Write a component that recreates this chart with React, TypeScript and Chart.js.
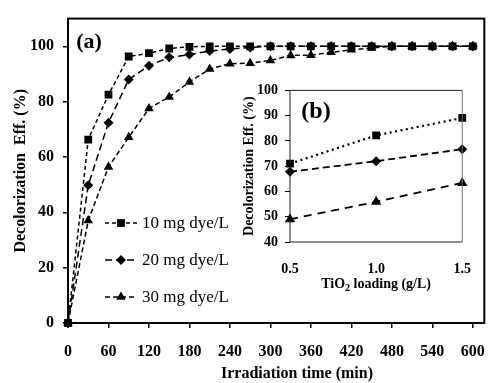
import React, { useEffect, useRef } from "react";
import { Chart, registerables } from "chart.js";
Chart.register(...registerables);

// ---------- Main chart data (a) ----------
const timeMin = [0, 30, 60, 90, 120, 150, 180, 210, 240, 270, 300, 330, 360, 390, 420, 450, 480, 510, 540, 570, 600];
const dye10 = [0, 66.3, 82.5, 96.3, 97.5, 99.2, 99.8, 100, 100, 100, 100, 100, 100, 100, 100, 100, 100, 100, 100, 100, 100];
const dye20 = [0, 49.8, 72.4, 88.0, 93.0, 96.0, 97.0, 98.3, 99.0, 99.6, 100, 100, 100, 100, 100, 100, 100, 100, 100, 100, 100];
const dye30 = [0, 37.0, 56.4, 67.1, 77.5, 81.7, 87.1, 91.8, 93.7, 93.9, 94.9, 96.7, 96.8, 97.8, 98.7, 99.4, 100, 100, 100, 100, 100];
const seriesLabels = ["10 mg dye/L", "20 mg dye/L", "30 mg dye/L"];
const xTicksMain = [0, 60, 120, 180, 240, 300, 360, 420, 480, 540, 600];
const yTicksMain = [0, 20, 40, 60, 80, 100];

// ---------- Inset data (b) ----------
const loading = [0.5, 1.0, 1.5];
const inset10 = [71.0, 82.2, 89.1];
const inset20 = [67.8, 72.0, 76.7];
const inset30 = [49.0, 55.9, 63.4];
const xTicksInset = [0.5, 1.0, 1.5];
const yTicksInset = [40, 50, 60, 70, 80, 90, 100];

const SERIF = "'Liberation Serif', 'Times New Roman', serif";

function pts(xs: number[], ys: number[]) {
  return xs.map((x, i) => ({ x, y: ys[i] }));
}

function drawMarker(ctx: CanvasRenderingContext2D, style: string, x: number, y: number, r: number) {
  ctx.beginPath();
  if (style === "rect") {
    const s = r * Math.SQRT1_2;
    ctx.rect(x - s, y - s, 2 * s, 2 * s);
  } else if (style === "rectRot") {
    ctx.moveTo(x, y - r);
    ctx.lineTo(x + r, y);
    ctx.lineTo(x, y + r);
    ctx.lineTo(x - r, y);
    ctx.closePath();
  } else {
    ctx.moveTo(x, y - r);
    ctx.lineTo(x + 0.866 * r, y + 0.5 * r);
    ctx.lineTo(x - 0.866 * r, y + 0.5 * r);
    ctx.closePath();
  }
  ctx.fill();
}

const mainPlugin = {
  id: "mainDecor",
  beforeDatasetsDraw(chart: any) {
    const ctx: CanvasRenderingContext2D = chart.ctx;
    const a = chart.chartArea;
    ctx.save();
    ctx.strokeStyle = "#000";
    ctx.lineWidth = 2;
    ctx.setLineDash([]);
    ctx.strokeRect(a.left, a.top, a.right - a.left, a.bottom - a.top);
    ctx.restore();
  },
  afterDraw(chart: any) {
    const ctx: CanvasRenderingContext2D = chart.ctx;
    ctx.save();
    ctx.fillStyle = "#000";
    ctx.font = `bold 22px ${SERIF}`;
    ctx.textAlign = "center";
    ctx.textBaseline = "middle";
    ctx.fillText("(a)", 89, 42);
    ctx.font = `bold 16px ${SERIF}`;
    ctx.fillText("Irradiation time (min)", 297, 374);
    const rows = [223, 260, 297];
    chart.data.datasets.forEach((ds: any, i: number) => {
      const y = rows[i];
      ctx.strokeStyle = "#000";
      ctx.lineWidth = 1.5;
      ctx.setLineDash(ds.borderDash || []);
      ctx.beginPath();
      ctx.moveTo(105, y);
      ctx.lineTo(137, y);
      ctx.stroke();
      ctx.setLineDash([]);
      ctx.fillStyle = "#000";
      drawMarker(ctx, ds.pointStyle, 121, y, ds.pointRadius);
      ctx.font = `17px ${SERIF}`;
      ctx.textAlign = "left";
      ctx.textBaseline = "middle";
      ctx.fillText(ds.label, 142, y + 1);
    });
    ctx.restore();
  },
};

const insetPlugin = {
  id: "insetDecor",
  afterDraw(chart: any) {
    const ctx: CanvasRenderingContext2D = chart.ctx;
    const a = chart.chartArea;
    ctx.save();
    ctx.setLineDash([]);
    ctx.lineWidth = 1;
    ctx.strokeStyle = "#222";
    ctx.beginPath();
    ctx.moveTo(a.left, a.bottom);
    ctx.lineTo(a.left, a.top);
    ctx.lineTo(a.right, a.top);
    ctx.moveTo(a.left, a.bottom);
    ctx.lineTo(a.right, a.bottom);
    ctx.stroke();
    ctx.strokeStyle = "#777";
    ctx.beginPath();
    ctx.moveTo(a.right, a.top);
    ctx.lineTo(a.right, a.bottom);
    ctx.stroke();
    ctx.fillStyle = "#000";
    ctx.font = `bold 24px ${SERIF}`;
    ctx.textAlign = "center";
    ctx.textBaseline = "middle";
    ctx.fillText("(b)", 86, 37);
    const big = `bold 14px ${SERIF}`;
    const small = `bold 10px ${SERIF}`;
    ctx.textAlign = "left";
    ctx.textBaseline = "alphabetic";
    ctx.font = big;
    const w1 = ctx.measureText("TiO").width;
    const w3 = ctx.measureText(" loading (g/L)").width;
    ctx.font = small;
    const w2 = ctx.measureText("2").width;
    const total = w1 + w2 + w3;
    let x = (a.left + a.right) / 2 - total / 2;
    const base = 213;
    ctx.font = big;
    ctx.fillText("TiO", x, base);
    x += w1;
    ctx.font = small;
    ctx.fillText("2", x, base + 3);
    x += w2;
    ctx.font = big;
    ctx.fillText(" loading (g/L)", x, base);
    ctx.restore();
  },
};

export default function App() {
  const mainRef = useRef<HTMLCanvasElement>(null);
  const insetRef = useRef<HTMLCanvasElement>(null);

  useEffect(() => {
    const tickFont = { family: SERIF, size: 16, weight: "bold" as const };
    const main = new Chart(mainRef.current!, {
      type: "line",
      data: {
        datasets: [
          {
            label: seriesLabels[0],
            data: pts(timeMin, dye10),
            borderColor: "#000",
            backgroundColor: "#000",
            borderWidth: 1.5,
            borderDash: [4, 3],
            pointStyle: "rect",
            pointRadius: 5.5,
            pointBorderWidth: 0,
            tension: 0,
            clip: 12,
          },
          {
            label: seriesLabels[1],
            data: pts(timeMin, dye20),
            borderColor: "#000",
            backgroundColor: "#000",
            borderWidth: 1.5,
            borderDash: [7, 4],
            pointStyle: "rectRot",
            pointRadius: 5,
            pointBorderWidth: 0,
            tension: 0,
            clip: 12,
          },
          {
            label: seriesLabels[2],
            data: pts(timeMin, dye30),
            borderColor: "#000",
            backgroundColor: "#000",
            borderWidth: 1.5,
            borderDash: [5, 3],
            pointStyle: "triangle",
            pointRadius: 5.5,
            pointBorderWidth: 0,
            tension: 0,
            clip: 12,
          },
        ],
      },
      options: {
        animation: false,
        responsive: false,
        devicePixelRatio: 1,
        layout: { padding: { top: 15, right: 2, left: 0, bottom: 0 } },
        plugins: { legend: { display: false }, tooltip: { enabled: false } },
        scales: {
          x: {
            type: "linear",
            min: 0,
            max: 617,
            afterBuildTicks: (s: any) => {
              s.ticks = xTicksMain.map((v) => ({ value: v }));
            },
            afterFit: (s: any) => {
              s.height = 60;
            },
            grid: { display: true, drawOnChartArea: false, drawTicks: true, tickLength: 5, color: "#000", lineWidth: 1.5 },
            border: { display: false },
            ticks: { font: tickFont, color: "#000", padding: 14, maxRotation: 0, autoSkip: false },
          },
          y: {
            type: "linear",
            min: 0,
            max: 110,
            afterBuildTicks: (s: any) => {
              s.ticks = yTicksMain.map((v) => ({ value: v }));
            },
            afterFit: (s: any) => {
              s.width = 68;
            },
            grid: { display: true, drawOnChartArea: false, drawTicks: true, tickLength: 5, color: "#000", lineWidth: 1.5 },
            border: { display: false },
            ticks: { font: tickFont, color: "#000", padding: 9, autoSkip: false },
            title: {
              display: true,
              text: "Decolorization  Eff. (%)",
              font: { family: SERIF, size: 16, weight: "bold" },
              color: "#000",
              padding: { top: 11, bottom: 0 },
            },
          },
        },
      },
      plugins: [mainPlugin],
    });

    const insetTickFont = { family: SERIF, size: 14, weight: "bold" as const };
    const inset = new Chart(insetRef.current!, {
      type: "line",
      data: {
        datasets: [
          {
            label: seriesLabels[0],
            data: pts(loading, inset10),
            borderColor: "#000",
            backgroundColor: "#000",
            borderWidth: 2.2,
            borderDash: [2, 3.5],
            pointStyle: "rect",
            pointRadius: 5.5,
            pointBorderWidth: 0,
            clip: 12,
          },
          {
            label: seriesLabels[1],
            data: pts(loading, inset20),
            borderColor: "#000",
            backgroundColor: "#000",
            borderWidth: 1.8,
            borderDash: [7, 4],
            pointStyle: "rectRot",
            pointRadius: 5,
            pointBorderWidth: 0,
            clip: 12,
          },
          {
            label: seriesLabels[2],
            data: pts(loading, inset30),
            borderColor: "#000",
            backgroundColor: "#000",
            borderWidth: 1.8,
            borderDash: [8, 6],
            pointStyle: "triangle",
            pointRadius: 6,
            pointBorderWidth: 0,
            clip: 12,
          },
        ],
      },
      options: {
        animation: false,
        responsive: false,
        devicePixelRatio: 1,
        layout: { padding: { top: 15, right: 17, left: 0, bottom: 0 } },
        plugins: { legend: { display: false }, tooltip: { enabled: false } },
        scales: {
          x: {
            type: "linear",
            min: 0.5,
            max: 1.5,
            afterBuildTicks: (s: any) => {
              s.ticks = xTicksInset.map((v) => ({ value: v }));
            },
            afterFit: (s: any) => {
              s.height = 58;
            },
            grid: { display: false, drawTicks: false, tickLength: 0 },
            border: { display: false },
            ticks: {
              font: insetTickFont,
              color: "#000",
              padding: 19,
              maxRotation: 0,
              autoSkip: false,
              callback: (v: any) => Number(v).toFixed(1),
            },
          },
          y: {
            type: "linear",
            min: 40,
            max: 100,
            afterBuildTicks: (s: any) => {
              s.ticks = yTicksInset.map((v) => ({ value: v }));
            },
            afterFit: (s: any) => {
              s.width = 60;
            },
            grid: { display: true, drawOnChartArea: false, drawTicks: true, tickLength: 5, color: "#000", lineWidth: 1 },
            border: { display: false },
            ticks: { font: insetTickFont, color: "#000", padding: 7, autoSkip: false },
            title: {
              display: true,
              text: "Decolorization Eff. (%)",
              font: { family: SERIF, size: 14, weight: "bold" },
              color: "#000",
              padding: { top: 11, bottom: 0 },
            },
          },
        },
      },
      plugins: [insetPlugin],
    });

    return () => {
      main.destroy();
      inset.destroy();
    };
  }, []);

  return (
    <div style={{ position: "fixed", left: 0, top: 0, width: 499, height: 383, background: "#fff" }}>
      <canvas ref={mainRef} width={499} height={383} style={{ position: "absolute", left: 0, top: 0, width: 499, height: 383 }} />
      <canvas ref={insetRef} width={260} height={225} style={{ position: "absolute", left: 230, top: 75, width: 260, height: 225 }} />
    </div>
  );
}
